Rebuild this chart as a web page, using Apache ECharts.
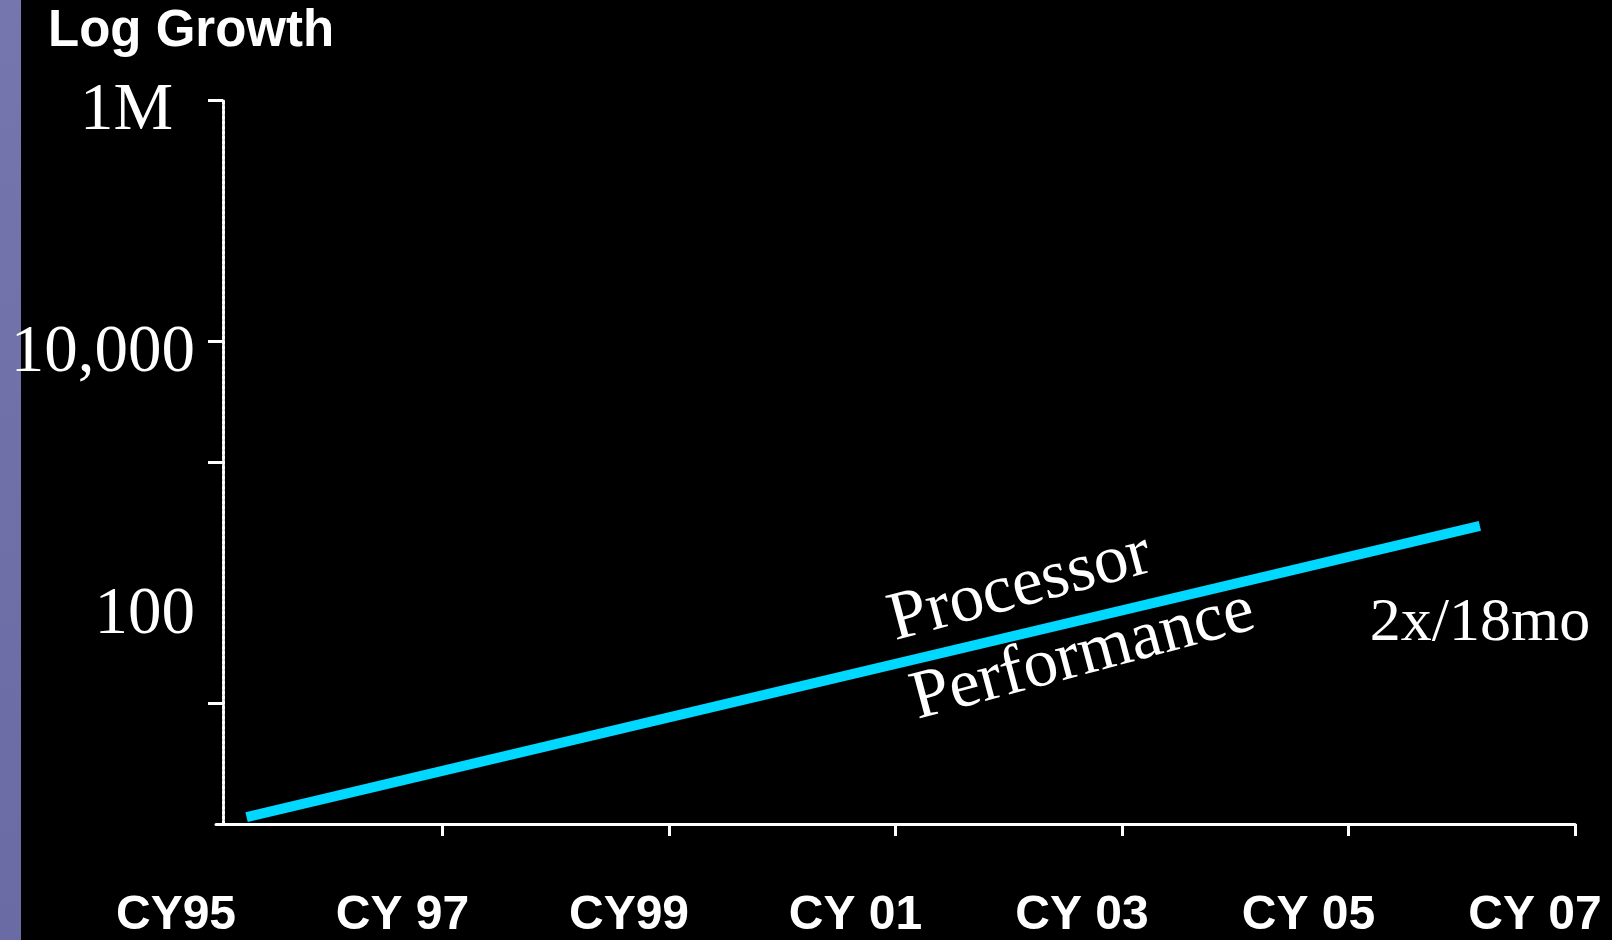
<!DOCTYPE html>
<html>
<head>
    <meta charset="utf-8">
    <title>Log Growth</title>
    <script src="https://cdn.jsdelivr.net/npm/echarts@6/dist/echarts.min.js"></script>
    <style>
        html, body { margin: 0; padding: 0; background: #000; }
        #chart { width: 1612px; height: 940px; }
    </style>
</head>
<body>
<div id="chart"></div>
<script>
    // x axis: calendar years, labels as on the slide
    var xYears = [1995, 1997, 1999, 2001, 2003, 2005, 2007];
    var xLabels = ['CY95', 'CY 97', 'CY99', 'CY 01', 'CY 03', 'CY 05', 'CY 07'];
    var xTickYears = [1997, 1999, 2001, 2003, 2005, 2007];
    // y axis (log)
    var yLabelValues = [100, 10000, 1000000];
    var yLabelText = ['100', '10,000', '1M'];
    var yTickValues = [10, 1000, 10000, 1000000];
    // processor performance, start / end of the line
    var perfYears = [1995.27, 2006.16];
    var perfValues = [1.14, 295];

    var serif = '"Liberation Serif", "Times New Roman", serif';
    var sans = '"Liberation Sans", Arial, sans-serif';

    var perfData = perfYears.map(function (y, i) { return [y, perfValues[i]]; });

    var myChart = echarts.init(document.getElementById('chart'));
    var option = {
        backgroundColor: '#000',
        animation: false,
        grid: {
            left: 216,
            right: 37,
            top: 100,
            bottom: 116
        },
        xAxis: {
            type: 'value',
            min: xYears[0],
            max: xYears[xYears.length - 1],
            interval: 2,
            axisLine: {onZero: false, lineStyle: {color: '#fff', width: 3}},
            axisTick: {show: true, length: 12, customValues: xTickYears, lineStyle: {color: '#fff', width: 3}},
            splitLine: {show: false},
            axisLabel: {
                color: '#fff',
                fontFamily: sans,
                fontWeight: 'bold',
                fontSize: 48,
                margin: 92,
                verticalAlign: 'middle',
                padding: [0, 80, 0, 0],
                showMinLabel: true,
                showMaxLabel: true,
                formatter: function (v) {
                    var i = xYears.indexOf(Math.round(v));
                    return i >= 0 ? xLabels[i] : '';
                }
            }
        },
        yAxis: {
            type: 'log',
            logBase: 10,
            min: 1,
            max: 1000000,
            offset: -7,
            axisLine: {show: true, lineStyle: {color: '#fff', width: 3, type: [3, 2]}},
            axisTick: {show: true, length: 15, customValues: yTickValues, lineStyle: {color: '#fff', width: 3}},
            splitLine: {show: false},
            axisLabel: {
                margin: 28,
                customValues: yLabelValues,
                formatter: function (v) {
                    var i = yLabelValues.indexOf(Math.round(v));
                    if (i < 0) return '';
                    return '{l' + i + '|' + yLabelText[i] + '}';
                },
                rich: {
                    l0: {color: '#fff', fontFamily: serif, fontSize: 67, padding: [66, 0, 0, 0]},
                    l1: {color: '#fff', fontFamily: serif, fontSize: 67, padding: [24, 0, 0, 0]},
                    l2: {color: '#fff', fontFamily: serif, fontSize: 67, padding: [22, 22, 0, 0]}
                }
            }
        },
        series: [{
            name: 'Processor Performance',
            type: 'line',
            data: perfData,
            symbol: 'none',
            silent: true,
            lineStyle: {color: '#00d8ff', width: 10, cap: 'butt'}
        }],
        graphic: [
            {
                type: 'rect',
                left: 0, top: 0, z: -10,
                shape: {width: 21, height: 940},
                style: {
                    fill: new echarts.graphic.LinearGradient(0, 0, 0, 1, [
                        {offset: 0, color: '#7676ae'},
                        {offset: 1, color: '#6a6aa4'}
                    ])
                }
            },
            {
                type: 'text', x: 48, y: 32,
                style: {text: 'Log Growth', fill: '#fff', font: 'bold 51px ' + sans, align: 'left', verticalAlign: 'middle'}
            },
            {
                type: 'text', x: 1020, y: 588, rotation: 15 * Math.PI / 180,
                style: {text: 'Processor', fill: '#fff', font: '69px ' + serif, align: 'center', verticalAlign: 'middle'}
            },
            {
                type: 'text', x: 1083, y: 656, rotation: 15 * Math.PI / 180,
                style: {text: 'Performance', fill: '#fff', font: '69px ' + serif, align: 'center', verticalAlign: 'middle'}
            },
            {
                type: 'text', x: 1480, y: 624,
                style: {text: '2x/18mo', fill: '#fff', font: '62px ' + serif, align: 'center', verticalAlign: 'middle'}
            }
        ]
    };
    myChart.setOption(option);
</script>
</body>
</html>
